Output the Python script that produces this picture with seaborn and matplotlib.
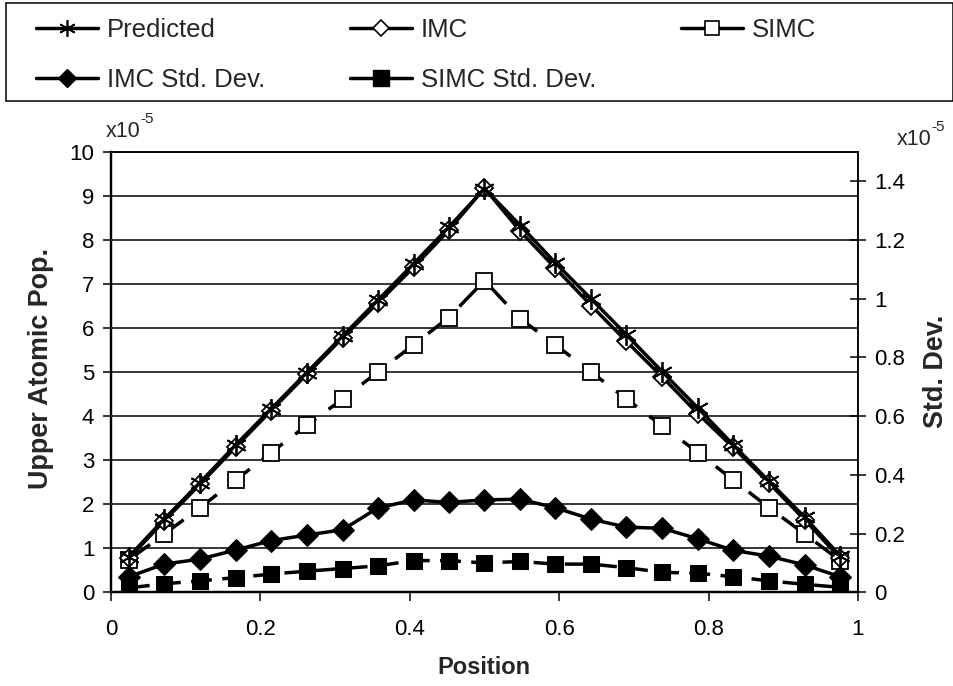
import matplotlib
matplotlib.use("Agg")
import matplotlib.pyplot as plt
from matplotlib.patches import Rectangle
from matplotlib.lines import Line2D
import seaborn as sns

# positions along the cell (21 sample points)
position = [0.024, 0.071, 0.119, 0.167, 0.214, 0.262, 0.310, 0.357, 0.405, 0.452, 0.500,
            0.548, 0.595, 0.643, 0.690, 0.738, 0.786, 0.833, 0.881, 0.929, 0.976]

# upper atomic population, x1e-5 (left axis)
predicted = [0.81, 1.66, 2.49, 3.35, 4.16, 4.99, 5.82, 6.63, 7.46, 8.29, 9.17,
             8.33, 7.48, 6.66, 5.85, 5.01, 4.18, 3.35, 2.52, 1.70, 0.83]
imc = [0.77, 1.62, 2.45, 3.30, 4.12, 4.95, 5.78, 6.57, 7.38, 8.22, 9.18,
       8.20, 7.36, 6.51, 5.70, 4.89, 4.05, 3.29, 2.48, 1.64, 0.78]
simc = [0.74, 1.32, 1.92, 2.55, 3.17, 3.79, 4.39, 5.00, 5.62, 6.24, 7.08,
        6.21, 5.62, 5.00, 4.39, 3.78, 3.17, 2.55, 1.92, 1.32, 0.72]

# standard deviations, x1e-5 (right axis)
imc_std = [0.053, 0.096, 0.113, 0.144, 0.176, 0.195, 0.213, 0.287, 0.315, 0.306, 0.315,
           0.317, 0.288, 0.249, 0.222, 0.218, 0.182, 0.143, 0.123, 0.093, 0.053]
simc_std = [0.015, 0.029, 0.039, 0.050, 0.062, 0.072, 0.081, 0.090, 0.108, 0.108, 0.100,
            0.105, 0.096, 0.096, 0.084, 0.068, 0.065, 0.053, 0.039, 0.027, 0.017]

x_ticks = [0, 0.2, 0.4, 0.6, 0.8, 1]
x_ticklabels = ["0", "0.2", "0.4", "0.6", "0.8", "1"]
left_ticks = list(range(0, 11))
right_ticks = [0, 0.2, 0.4, 0.6, 0.8, 1.0, 1.2, 1.4]
right_ticklabels = ["0", "0.2", "0.4", "0.6", "0.8", "1", "1.2", "1.4"]

sns.set_style("white")
plt.rcParams["font.family"] = ["Liberation Sans", "DejaVu Sans"]

fig = plt.figure(figsize=(9.54, 6.86), dpi=100)
ax = fig.add_axes([111 / 954, 1 - 592.3 / 686, 747 / 954, 440.3 / 686])
ax2 = ax.twinx()

lw = 2.5
asterisk = (6, 2, 0)
sns.lineplot(x=position, y=simc, ax=ax, color="black", linewidth=lw,
             dashes=(7.5, 4.5), marker="s", markersize=11, markerfacecolor="white",
             markeredgecolor="black", markeredgewidth=1.3, errorbar=None)
sns.lineplot(x=position, y=imc, ax=ax, color="black", linewidth=lw,
             marker="D", markersize=9, markerfacecolor="white",
             markeredgecolor="black", markeredgewidth=1.3, errorbar=None)
sns.lineplot(x=position, y=predicted, ax=ax, color="black", linewidth=lw,
             marker=asterisk, markersize=15, markeredgewidth=1.3,
             markeredgecolor="black", errorbar=None)

sns.lineplot(x=position, y=imc_std, ax=ax2, color="black", linewidth=lw,
             marker="D", markersize=11, markeredgecolor="black", errorbar=None)
sns.lineplot(x=position, y=simc_std, ax=ax2, color="black", linewidth=lw,
             dashes=(6, 3), marker="s", markersize=12, markeredgecolor="black",
             errorbar=None)

# axes limits and ticks
ax.set_xlim(0, 1)
ax.set_ylim(0, 10)
ax2.set_ylim(0, 1.5)
ax.set_xticks(x_ticks)
ax.set_xticklabels(x_ticklabels)
ax.set_yticks(left_ticks)
ax.set_yticklabels([str(t) for t in left_ticks])
ax2.set_yticks(right_ticks)
ax2.set_yticklabels(right_ticklabels)
ax.set_xlabel("")
ax.set_ylabel("")
ax2.set_ylabel("")

ax.grid(axis="y", color="black", linewidth=1.1)
ax.set_axisbelow(True)
ax.tick_params(axis="x", direction="out", length=6.5, width=1.1, pad=13,
               labelsize=16, colors="black", bottom=True)
ax.tick_params(axis="y", direction="out", length=6, width=1.1, pad=6,
               labelsize=16, colors="black", left=True)
ax2.tick_params(axis="y", direction="inout", length=11, width=1.1, pad=6,
                labelsize=16, colors="black", right=True)

for a in (ax, ax2):
    for s in a.spines.values():
        s.set_color("black")
        s.set_linewidth(1.1)
    a.spines["left"].set_linewidth(1.6)
    a.spines["bottom"].set_linewidth(1.6)

# axis titles and scale markers
fig.text(41 / 954, 1 - 368 / 686, "Upper Atomic Pop.", rotation=90,
         ha="center", va="center", fontsize=19.4, fontweight="bold")
fig.text(936 / 954, 1 - 371 / 686, "Std. Dev.", rotation=90,
         ha="center", va="center", fontsize=19.4, fontweight="bold")
fig.text(484 / 954, 1 - 668 / 686, "Position", ha="center", va="center",
         fontsize=17, fontweight="bold")
fig.text(106 / 954, 1 - 137 / 686, "x10", ha="left", va="baseline", fontsize=15.5)
fig.text(140 / 954, 1 - 123 / 686, "-5", ha="left", va="baseline", fontsize=11)
fig.text(897 / 954, 1 - 145 / 686, "x10", ha="left", va="baseline", fontsize=15.5)
fig.text(931 / 954, 1 - 131 / 686, "-5", ha="left", va="baseline", fontsize=11)

# legend in a box across the top
labels = ["Predicted", "IMC Std. Dev.", "IMC", "SIMC Std. Dev.", "SIMC"]
handles = [
    Line2D([], [], color="black", lw=lw, marker=asterisk, markersize=12, markeredgewidth=1.2),
    Line2D([], [], color="black", lw=lw, marker="D", markersize=9),
    Line2D([], [], color="black", lw=lw, marker="D", markersize=8,
           markerfacecolor="white", markeredgewidth=1.2),
    Line2D([], [], color="black", lw=lw, marker="s", markersize=12),
    Line2D([], [], color="black", lw=lw, marker="s", markersize=10,
           markerfacecolor="white", markeredgewidth=1.2),
]
fig.legend(handles, labels, loc="upper left",
           bbox_to_anchor=(36 / 954, 1 - 18 / 686), ncol=3, frameon=False,
           fontsize=18.5, handlelength=2.41, handletextpad=0.35, columnspacing=3.3,
           labelspacing=1.0, borderpad=0, borderaxespad=0)
fig.add_artist(Rectangle((6 / 954, 1 - 101 / 686), 947 / 954, 98 / 686,
                         transform=fig.transFigure, fill=False,
                         edgecolor="black", linewidth=1.1))

fig.savefig("out.png", dpi=100)
